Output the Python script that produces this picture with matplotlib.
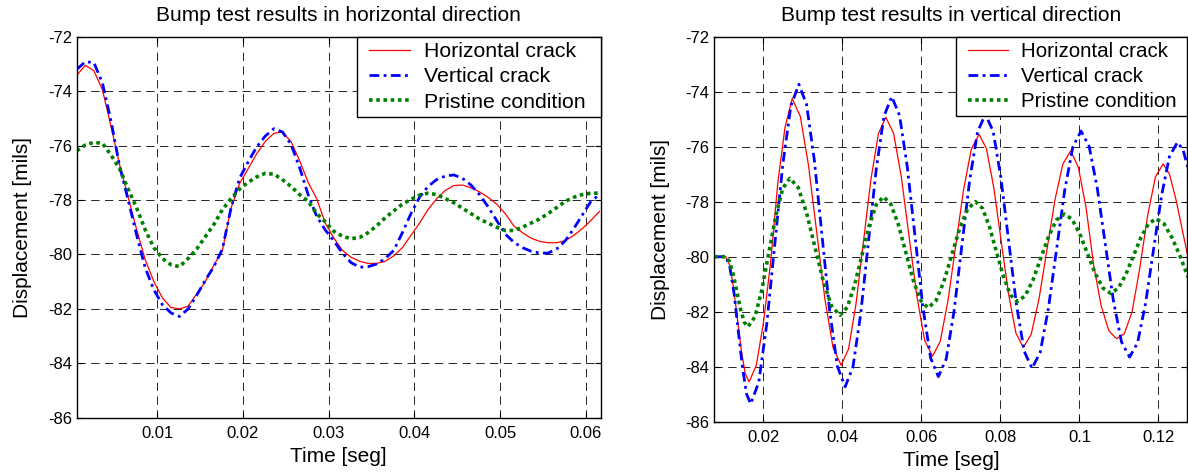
import numpy as np
import matplotlib
matplotlib.use('Agg')
import matplotlib.pyplot as plt
from matplotlib.lines import Line2D
from matplotlib.legend_handler import HandlerLine2D

plt.rcParams['font.family'] = ['Liberation Sans', 'DejaVu Sans']
plt.rcParams['axes.unicode_minus'] = False

labels = ['Horizontal crack', 'Vertical crack', 'Pristine condition']

# ---- horizontal direction (common time base) ----
t_left = [0.0006, 0.0016, 0.0026, 0.0036, 0.0046, 0.0056, 0.0066, 0.0076, 0.0086, 0.0096,
          0.0106, 0.0116, 0.0126, 0.0136, 0.0146, 0.0156, 0.0166, 0.0176, 0.0186, 0.0196,
          0.0206, 0.0216, 0.0226, 0.0236, 0.0246, 0.0256, 0.0266, 0.0276, 0.0286, 0.0296,
          0.0306, 0.0316, 0.0326, 0.0336, 0.0346, 0.0356, 0.0366, 0.0376, 0.0386, 0.0396,
          0.0406, 0.0416, 0.0426, 0.0436, 0.0446, 0.0456, 0.0466, 0.0476, 0.0486, 0.0496,
          0.0506, 0.0516, 0.0526, 0.0536, 0.0546, 0.0556, 0.0566, 0.0576, 0.0586, 0.0596,
          0.0606, 0.0616]
red_left = [-73.42, -73.05, -73.25, -73.95, -75.3, -76.7, -77.9, -79.1, -80.2, -81.0,
            -81.6, -81.95, -82.0, -81.9, -81.45, -81.0, -80.4, -79.85, -78.3, -77.4,
            -76.85, -76.3, -75.85, -75.55, -75.5, -75.85, -76.55, -77.35, -77.95, -78.85,
            -79.4, -79.85, -80.1, -80.25, -80.33, -80.33, -80.25, -80.05, -79.75, -79.3,
            -78.85, -78.35, -77.95, -77.65, -77.47, -77.45, -77.55, -77.7, -77.9, -78.15,
            -78.5, -78.95, -79.2, -79.4, -79.52, -79.57, -79.57, -79.5, -79.3, -79.05,
            -78.75, -78.42]
blue_left = [-73.2, -72.92, -72.95, -73.7, -75.1, -76.75, -78.0, -79.3, -80.5, -81.3,
             -81.85, -82.15, -82.28, -82.0, -81.5, -80.95, -80.45, -79.8, -78.3, -77.2,
             -76.6, -76.05, -75.65, -75.38, -75.5, -75.95, -76.8, -77.8, -78.6, -79.1,
             -79.5, -79.95, -80.3, -80.47, -80.45, -80.35, -80.15, -79.85, -79.2, -78.5,
             -77.9, -77.5, -77.25, -77.12, -77.08, -77.2, -77.45, -77.8, -78.25, -78.75,
             -79.25, -79.55, -79.75, -79.88, -79.95, -79.95, -79.8, -79.5, -79.05, -78.55,
             -78.05, -77.8]
green_left = [-76.19, -75.98, -75.88, -75.92, -76.35, -76.85, -77.6, -78.3, -79.1, -79.75,
              -80.15, -80.38, -80.45, -80.15, -79.8, -79.35, -78.9, -78.35, -77.95, -77.6,
              -77.35, -77.15, -77.02, -77.05, -77.25, -77.5, -77.8, -78.05, -78.5, -78.8,
              -79.15, -79.33, -79.42, -79.38, -79.2, -78.95, -78.65, -78.4, -78.15, -77.98,
              -77.82, -77.75, -77.8, -77.95, -78.1, -78.3, -78.5, -78.7, -78.85, -79.0,
              -79.12, -79.12, -79.0, -78.85, -78.7, -78.5, -78.28, -78.05, -77.9, -77.8,
              -77.75, -77.75]

# ---- vertical direction ----
t_red_right = [0.0076, 0.0105, 0.01148, 0.01247, 0.01345, 0.01443, 0.01542, 0.0164,
               0.01822, 0.02003, 0.02185, 0.02367, 0.02548, 0.0273,
               0.02937, 0.03143, 0.0335, 0.03557, 0.03763, 0.0397,
               0.04158, 0.04347, 0.04535, 0.04723, 0.04912, 0.051,
               0.05297, 0.05493, 0.0569, 0.05887, 0.06083, 0.0628,
               0.06477, 0.06673, 0.0687, 0.07067, 0.07263, 0.0746,
               0.07647, 0.07833, 0.0802, 0.08207, 0.08393, 0.0858,
               0.0878, 0.0898, 0.0918, 0.0938, 0.0958, 0.0978,
               0.09973, 0.10167, 0.1036, 0.10553, 0.10747, 0.1094,
               0.11137, 0.11333, 0.1153, 0.11727, 0.11923, 0.1212,
               0.1228, 0.1244, 0.126, 0.1275]
red_right = [-80.0, -80.0, -80.30, -81.14, -82.28, -83.41, -84.25, -84.55,
             -83.95, -82.4, -80.2, -77.3, -75.3, -74.25,
             -74.90, -76.68, -79.10, -81.53, -83.30, -83.95,
             -83.35, -81.70, -79.44, -77.19, -75.53, -74.93,
             -75.51, -77.10, -79.28, -81.45, -83.04, -83.62,
             -83.08, -81.60, -79.59, -77.57, -76.09, -75.55,
             -76.07, -77.49, -79.43, -81.36, -82.78, -83.30,
             -82.82, -81.51, -79.73, -77.94, -76.63, -76.15,
             -76.75, -78.2, -80.3, -81.8, -82.7, -82.98,
             -82.8, -82.0, -80.4, -78.5, -77.1, -76.62,
             -77.0, -77.9, -79.0, -80.03]

t_blue_right = [0.0076, 0.0105, 0.0115, 0.0126, 0.01365, 0.0147, 0.01575, 0.0168,
                0.01883, 0.02087, 0.0229, 0.02493, 0.02697, 0.029,
                0.03095, 0.0329, 0.03485, 0.0368, 0.03875, 0.0407,
                0.04267, 0.04463, 0.0466, 0.04857, 0.05053, 0.0525,
                0.05447, 0.05643, 0.0584, 0.06037, 0.06233, 0.0643,
                0.06628, 0.06827, 0.07025, 0.07223, 0.07422, 0.0762,
                0.07817, 0.08013, 0.0821, 0.08407, 0.08603, 0.088,
                0.09007, 0.09213, 0.0942, 0.09627, 0.09833, 0.1004,
                0.10245, 0.1045, 0.10655, 0.1086, 0.11065, 0.1127,
                0.11472, 0.11673, 0.11875, 0.12077, 0.12278, 0.1248,
                0.1262, 0.1275]
blue_right = [-80.0, -80.0, -80.36, -81.34, -82.68, -84.01, -84.99, -85.35,
              -84.57, -82.45, -79.54, -76.64, -74.51, -73.73,
              -74.47, -76.48, -79.23, -81.98, -83.99, -84.73,
              -84.02, -82.09, -79.46, -76.82, -74.89, -74.18,
              -74.86, -76.73, -79.27, -81.82, -83.68, -84.36,
              -83.72, -81.98, -79.59, -77.21, -75.46, -74.82,
              -75.44, -77.13, -79.44, -81.75, -83.44, -84.06,
              -83.48, -81.90, -79.75, -77.59, -76.01, -75.43,
              -75.98, -77.49, -79.54, -81.60, -83.10, -83.65,
              -83.13, -81.70, -79.75, -77.79, -76.36, -75.84,
              -76.1, -76.78]

t_green_right = [0.0076, 0.0105, 0.01143, 0.01237, 0.0133, 0.01423, 0.01517, 0.0161,
                 0.01787, 0.01963, 0.0214, 0.02317, 0.02493, 0.0267,
                 0.02882, 0.03093, 0.03305, 0.03517, 0.03728, 0.0394,
                 0.04123, 0.04307, 0.0449, 0.04673, 0.04857, 0.0504,
                 0.05228, 0.05417, 0.05605, 0.05793, 0.05982, 0.0617,
                 0.0637, 0.0657, 0.0677, 0.0697, 0.0717, 0.0737,
                 0.07547, 0.07723, 0.079, 0.08077, 0.08253, 0.0843,
                 0.08628, 0.08827, 0.09025, 0.09223, 0.09422, 0.0962,
                 0.09815, 0.1001, 0.10205, 0.104, 0.10595, 0.1079,
                 0.10982, 0.11173, 0.11365, 0.11557, 0.11748, 0.1194,
                 0.1214, 0.1234, 0.1254, 0.1275]
green_right = [-80.0, -80.0, -80.17, -80.64, -81.28, -81.91, -82.38, -82.55,
               -82.19, -81.20, -79.85, -78.50, -77.51, -77.15,
               -77.48, -78.40, -79.64, -80.89, -81.80, -82.13,
               -81.84, -81.05, -79.98, -78.90, -78.11, -77.82,
               -78.09, -78.83, -79.84, -80.85, -81.59, -81.86,
               -81.60, -80.90, -79.93, -78.97, -78.26, -78.00,
               -78.24, -78.91, -79.82, -80.72, -81.39, -81.63,
               -81.42, -80.84, -80.04, -79.25, -78.66, -78.45,
               -78.64, -79.17, -79.89, -80.61, -81.14, -81.33,
               -81.15, -80.65, -79.98, -79.30, -78.80, -78.62,
               -78.8, -79.3, -79.95, -80.75]

yticks = [-86, -84, -82, -80, -78, -76, -74, -72]
xticks_left = [0.01, 0.02, 0.03, 0.04, 0.05, 0.06]
xticklabels_left = ['0.01', '0.02', '0.03', '0.04', '0.05', '0.06']
xticks_right = [0.02, 0.04, 0.06, 0.08, 0.1, 0.12]
xticklabels_right = ['0.02', '0.04', '0.06', '0.08', '0.1', '0.12']


class InsetLine(HandlerLine2D):
    # matlab style legend: leave a gap in front of the sample line
    def __init__(self, skip, **kw):
        super().__init__(**kw)
        self.skip = skip

    def get_xdata(self, legend, xdescent, ydescent, width, height, fontsize):
        xd, xm = super().get_xdata(legend, xdescent, ydescent, width, height, fontsize)
        return np.array([xd[0] + self.skip, xd[-1]]), xm


def draw(ax, tr, yr, tb, yb, tg, yg, title, xlim, xticks, xticklabels, leg_box, leg_fs):
    l1, = ax.plot(tr, yr, color='#ff0000', lw=0.9)
    l2, = ax.plot(tb, yb, color='#0000ff', lw=2.0, linestyle=(0, (3.5, 1.6, 1.0, 1.6)))
    l3, = ax.plot(tg, yg, color='#008000', lw=2.6, linestyle=(0, (1, 1)))
    ax.set_xlim(*xlim)
    ax.set_ylim(-86, -72)
    ax.set_xticks(xticks)
    ax.set_xticklabels(xticklabels)
    ax.set_yticks(yticks)
    ax.set_yticklabels([str(v) for v in yticks])
    ax.grid(True, color='k', linestyle=(0, (10, 6.5)), linewidth=0.6)
    ax.tick_params(direction='in', length=4, width=0.8, top=True, right=True,
                   labelsize=12)
    ax.tick_params(axis='x', pad=6)
    ax.tick_params(axis='y', pad=3.5)
    for s in ax.spines.values():
        s.set_linewidth(1.0)
    ax.set_title(title, fontsize=15, pad=11)
    ax.set_xlabel('Time [seg]', fontsize=15, labelpad=4)
    ax.set_ylabel('Displacement [mils]', fontsize=15, labelpad=11)
    leg = ax.legend([l1, l2, l3], labels, loc='upper left', bbox_to_anchor=leg_box,
                    mode='expand', borderaxespad=0, borderpad=0.25, handlelength=2.25,
                    handletextpad=0.65, labelspacing=0.3, fancybox=False,
                    edgecolor='k', framealpha=1, fontsize=leg_fs,
                    handler_map={Line2D: InsetLine(5)})
    leg.get_frame().set_linewidth(1.0)


fig = plt.figure(figsize=(11.88, 4.75), dpi=100)
ax1 = fig.add_axes([0.0646, 0.1206, 0.4411, 0.8021])
ax2 = fig.add_axes([0.6013, 0.1122, 0.3981, 0.8105])

draw(ax1, t_left, red_left, t_left, blue_left, t_left, green_left,
     'Bump test results in horizontal direction', (0.0006, 0.06175),
     xticks_left, xticklabels_left, (0.535, 0.79, 0.465, 0.21), 15.3)
draw(ax2, t_red_right, red_right, t_blue_right, blue_right, t_green_right, green_right,
     'Bump test results in vertical direction', (0.0076, 0.1273),
     xticks_right, xticklabels_right, (0.5114, 0.8, 0.4886, 0.2), 14.8)

fig.savefig('out.png', dpi=100)
